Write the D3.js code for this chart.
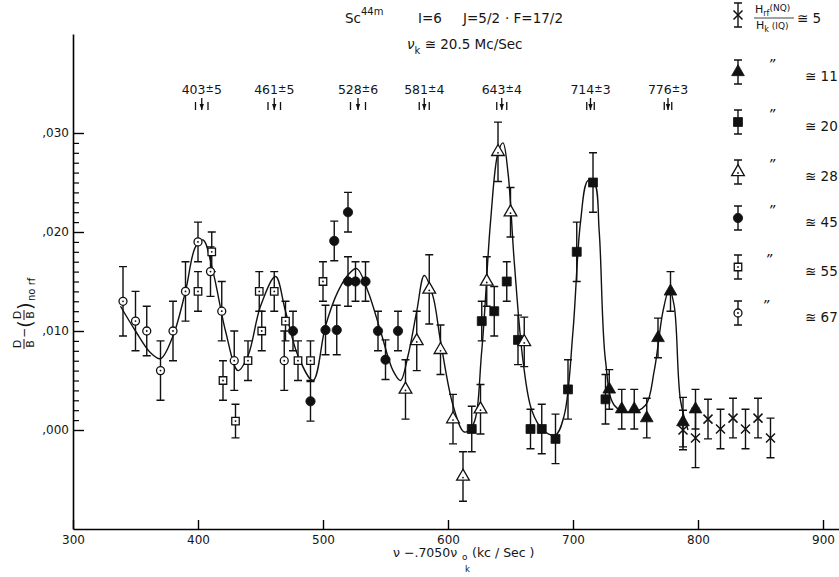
<!DOCTYPE html>
<html lang="en">
<head>
    <meta charset="UTF-8">
    <title>Sc44m</title>
    <style>
        body {margin:0; background:#fff;}
        text {font-family:"DejaVu Sans", sans-serif; fill:#151515;}
    </style>
</head>
<body>
<script src="https://cdn.jsdelivr.net/npm/d3@7"></script>
<script>
    // points: [nu - .7050 nu_ok (kc/sec), D/B - (D/B)no rf, error]
    let ratio5 = [[788,0.0000,0.002],[798,-0.0008,0.003],[808,0.0011,0.002],[818,0.0001,0.002],
        [828,0.0012,0.002],[838,0.0001,0.002],[848,0.0012,0.002],[858,-0.0008,0.002]];
    let ratio11 = [[729,0.0041,0.002],[739,0.0021,0.002],[749,0.0021,0.002],[759,0.0012,0.002],
        [768,0.0093,0.002],[778,0.0140,0.002],[788,0.0008,0.0025],[798,0.0021,0.002]];
    let ratio20 = [[619,0.0001,0.0023],[627,0.0110,0.002],[637,0.0120,0.0025],[647,0.0150,0.002],
        [656,0.0091,0.0025],[666,0.0001,0.002],[675,0.0001,0.0025],[686,-0.0009,0.0025],
        [696,0.0041,0.003],[703,0.0180,0.003],[716,0.0250,0.003],[726,0.0031,0.0025]];
    let ratio28 = [[566,0.0041,0.003],[575,0.0090,0.003],[585,0.0142,0.0035],[594,0.0081,0.0025],
        [604,0.0011,0.0025],[612,-0.0047,0.0025],[626,0.0021,0.0025],[631,0.0150,0.0025],
        [640,0.0281,0.003],[650,0.0220,0.0025],[661,0.0089,0.0025]];
    let ratio45 = [[476,0.0100,0.002],[490,0.0029,0.002],[502,0.0101,0.0025],[509,0.0191,0.002],
        [511,0.0101,0.0025],[520,0.0220,0.002],[520,0.0150,0.0025],[526,0.0150,0.002],
        [534,0.0150,0.002],[544,0.0100,0.002],[550,0.0071,0.002],[560,0.0100,0.002]];
    let ratio55 = [[400,0.0140,0.002],[411,0.0180,0.002],[420,0.0050,0.002],[430,0.0009,0.0017],
        [440,0.0070,0.002],[449,0.0140,0.002],[451,0.0100,0.002],[461,0.0140,0.002],
        [470,0.0110,0.002],[480,0.0070,0.002],[490,0.0070,0.002],[500,0.0150,0.002]];
    let ratio67 = [[340,0.0130,0.0035],[350,0.0110,0.003],[359,0.0100,0.0025],[370,0.0060,0.003],
        [380,0.0100,0.003],[390,0.0140,0.003],[400,0.0190,0.002],[410,0.0160,0.0025],
        [419,0.0120,0.003],[429,0.0070,0.003],[469,0.0070,0.003]];

    // hand drawn guide curve, knots
    let fitCurve = [[338,0.0125],[350,0.0100],[362,0.0078],[370,0.0072],[380,0.0095],[390,0.0140],
        [398,0.0185],[404,0.0192],[412,0.0160],[422,0.0100],[432,0.0060],[440,0.0075],[450,0.0125],
        [462,0.0155],[470,0.0120],[480,0.0075],[492,0.0050],[502,0.0105],[512,0.0140],[521,0.0158],
        [527,0.0163],[536,0.0140],[546,0.0100],[556,0.0060],[562,0.0050],[568,0.0075],[575,0.0120],
        [581,0.0156],[588,0.0135],[594,0.0090],[604,0.0025],[613,-0.0002],[620,0.0005],[627,0.0080],
        [634,0.0210],[640,0.0280],[644,0.0290],[648,0.0260],[653,0.0170],[660,0.0070],[667,0.0020],
        [676,0.0000],[686,-0.0005],[693,0.0015],[700,0.0100],[706,0.0210],[712,0.0252],[717,0.0250],
        [721,0.0200],[726,0.0070],[733,0.0025],[745,0.0018],[758,0.0025],[765,0.0060],[772,0.0120],
        [777,0.0142],[781,0.0125],[786,0.0030],[792,0.0000]];

    let peaks = [403,461,528,581,643,714,776];
    let peakErr = [5,5,6,4,4,3,3];
    let xTicks = [300,400,500,600,700,800,900];
    let yTicks = [0,0.010,0.020,0.030];
    let yTickLabels = [",000",",010",",020",",030"];
    let ratioLabels = ["5","11","20","28","45","55","67"];
    let ratioSigns = ["≅","≅","≅","≊","≊","≊","≊"];

    let width = 839;
    let height = 577;
    let svg = d3.select("body").append("svg")
        .attr("width",width)
        .attr("height",height);

    let x = d3.scaleLinear().domain([300,912.8]).range([73,839]);
    let y = d3.scaleLinear().domain([-0.010,0.040]).range([529,34]);

    // axes
    let yMinor = d3.range(1,30).filter(d => d % 10 !== 0).map(d => d/1000);
    svg.append("g")
        .attr("transform","translate(73,0)")
        .call(d3.axisLeft(y).tickValues(yTicks).tickSize(-11).tickSizeOuter(0)
            .tickPadding(4).tickFormat((d,i) => yTickLabels[i]))
        .call(g => g.select(".domain").attr("stroke-width",1.6))
        .call(g => g.selectAll(".tick line").attr("stroke-width",1.4))
        .call(g => g.selectAll("text").attr("font-size",12).attr("fill","#151515")
            .attr("font-family","DejaVu Sans, sans-serif"));
    svg.append("g")
        .attr("transform","translate(73,0)")
        .call(d3.axisLeft(y).tickValues(yMinor).tickSize(-6).tickFormat(""))
        .call(g => g.select(".domain").remove())
        .call(g => g.selectAll(".tick line").attr("stroke-width",1.2));
    svg.append("g")
        .attr("transform","translate(0,529)")
        .call(d3.axisBottom(x).tickValues(xTicks).tickSize(-9).tickSizeOuter(0).tickPadding(6))
        .call(g => g.select(".domain").attr("stroke-width",1.6))
        .call(g => g.selectAll(".tick line").attr("stroke-width",1.4))
        .call(g => g.selectAll("text").attr("font-size",12).attr("fill","#151515")
            .attr("font-family","DejaVu Sans, sans-serif"));

    // guide curve
    svg.append("path")
        .datum(fitCurve)
        .attr("fill","none")
        .attr("stroke","#111")
        .attr("stroke-width",1.4)
        .attr("d",d3.line().x(d => x(d[0])).y(d => y(d[1])).curve(d3.curveCatmullRom.alpha(0.5)));

    function marker(g,type,cx,cy) {
        if (type === "x") {
            g.append("path")
                .attr("d",`M${cx-4.5},${cy-4.5}L${cx+4.5},${cy+4.5}M${cx-4.5},${cy+4.5}L${cx+4.5},${cy-4.5}`)
                .attr("stroke","#111").attr("stroke-width",1.5);
            return;
        }
        let sym = {tri:d3.symbolTriangle,otri:d3.symbolTriangle,sq:d3.symbolSquare,
            osq:d3.symbolSquare,dot:d3.symbolCircle,ocirc:d3.symbolCircle}[type];
        let size = {tri:70,otri:70,sq:80,osq:56,dot:68,ocirc:50}[type];
        let open = type[0] === "o";
        g.append("path")
            .attr("transform",`translate(${cx},${cy})`)
            .attr("d",d3.symbol().type(sym).size(size)())
            .attr("fill",open ? "#fff" : "#111")
            .attr("stroke","#111")
            .attr("stroke-width",open ? 1.3 : 0.8);
        if (open) {
            g.append("circle").attr("cx",cx).attr("cy",cy + (type === "otri" ? 1 : 0))
                .attr("r",0.9).attr("fill","#111");
        }
    }

    function errorBar(g,cx,y0,y1) {
        g.append("path")
            .attr("d",`M${cx},${y0}L${cx},${y1}M${cx-4},${y0}L${cx+4},${y0}M${cx-4},${y1}L${cx+4},${y1}`)
            .attr("fill","none").attr("stroke","#111").attr("stroke-width",1.4);
    }

    let series = [
        {data:ratio5, type:"x"},
        {data:ratio11, type:"tri"},
        {data:ratio20, type:"sq"},
        {data:ratio28, type:"otri"},
        {data:ratio45, type:"dot"},
        {data:ratio55, type:"osq"},
        {data:ratio67, type:"ocirc"}
    ];

    let bars = svg.append("g");
    let marks = svg.append("g");
    series.forEach(s => {
        s.data.forEach(d => {
            errorBar(bars,x(d[0]),y(d[1]+d[2]),y(d[1]-d[2]));
        });
    });
    series.forEach(s => {
        s.data.forEach(d => marker(marks,s.type,x(d[0]),y(d[1])));
    });

    // peak annotations
    let ann = svg.append("g");
    peaks.forEach((p,i) => {
        let t = ann.append("text")
            .attr("x",x(p))
            .attr("y",94)
            .attr("text-anchor","middle")
            .attr("font-size",12.5);
        t.append("tspan").text(p);
        t.append("tspan").attr("font-size",10).attr("dy",-2).text("±");
        t.append("tspan").attr("dy",2).text(peakErr[i]);
        let cx = x(p);
        let dx = x(p + peakErr[i]) - cx;
        ann.append("path")
            .attr("d",`M${cx},98L${cx},110M${cx-dx},102L${cx-dx},110M${cx+dx},102L${cx+dx},110`)
            .attr("stroke","#111").attr("stroke-width",1.3);
        ann.append("path")
            .attr("d",`M${cx-2.2},104L${cx+2.2},104L${cx},110Z`)
            .attr("fill","#111");
    });

    // title
    let title = svg.append("text").attr("x",345).attr("y",23).attr("font-size",13.5);
    title.append("tspan").text("Sc");
    title.append("tspan").attr("font-size",10).attr("dy",-8).text("44m");
    title.append("tspan").attr("dy",8).attr("x",418).text("I=6");
    title.append("tspan").attr("x",463).text("J=5/2");
    title.append("tspan").attr("x",505).text("· F=17/2");
    let sub = svg.append("text").attr("x",407).attr("y",49).attr("font-size",13.5);
    sub.append("tspan").attr("font-style","italic").text("ν");
    sub.append("tspan").attr("font-size",10).attr("dy",5).text("k");
    sub.append("tspan").attr("dy",-5).text(" ≅ 20.5 Mc/Sec");

    // x axis title, pieces placed one by one so the subscripts sit clear
    let xt = svg.append("g");
    xt.append("text").attr("x",393).attr("y",557).attr("font-size",12.5).text("ν −.7050ν");
    xt.append("text").attr("x",462).attr("y",560).attr("font-size",9).text("o");
    xt.append("text").attr("x",465).attr("y",572).attr("font-size",8.5).text("k");
    xt.append("text").attr("x",472).attr("y",557).attr("font-size",12.5).text("(kc / Sec )");

    // y axis title
    let yt = svg.append("g").attr("transform","translate(24,290) rotate(-90)");
    function frac(g,cx,fs) {
        g.append("text").attr("x",cx).attr("y",-3).attr("text-anchor","middle").attr("font-size",fs).text("D");
        g.append("text").attr("x",cx).attr("y",fs - 1).attr("text-anchor","middle").attr("font-size",fs).text("B");
        g.append("line").attr("x1",cx-5).attr("x2",cx+5).attr("y1",0).attr("y2",0)
            .attr("stroke","#111").attr("stroke-width",1);
    }
    frac(yt,-54,11);
    yt.append("text").attr("x",-43).attr("y",4).attr("text-anchor","middle").attr("font-size",12).text("−");
    yt.append("text").attr("x",-34).attr("y",8).attr("text-anchor","middle").attr("font-size",20).text("(");
    frac(yt,-25,11);
    yt.append("text").attr("x",-16).attr("y",8).attr("text-anchor","middle").attr("font-size",20).text(")");
    yt.append("text").attr("x",-11).attr("y",11).attr("font-size",10).text("no rf");

    // legend
    let legY = [15,72,122,172,218,267,313];
    let leg = svg.append("g");
    series.forEach((s,i) => {
        errorBar(leg,738,legY[i]-12,legY[i]+12);
    });
    series.forEach((s,i) => {
        marker(leg,s.type,738,legY[i]);
        if (i > 0) {
            leg.append("text").attr("x",768 - (i > 4 ? (i-4)*3 : 0)).attr("y",legY[i] - 3)
                .attr("font-size",14).attr("font-style","italic").text("\u201D");
        }
        leg.append("text").attr("x",i === 0 ? 797 : 805).attr("y",legY[i] + (i === 0 ? 8 : 9))
            .attr("font-size",13.5).text(ratioSigns[i] + " " + ratioLabels[i]);
    });
    let h1 = leg.append("text").attr("x",755).attr("y",13).attr("font-size",11);
    h1.append("tspan").text("H");
    h1.append("tspan").attr("font-size",8).attr("dy",3).text("rf");
    h1.append("tspan").attr("font-size",9).attr("dy",-5).text("(NQ)");
    leg.append("line").attr("x1",754).attr("x2",794).attr("y1",18).attr("y2",18)
        .attr("stroke","#111").attr("stroke-width",0.8);
    let h2 = leg.append("text").attr("x",756).attr("y",29).attr("font-size",11);
    h2.append("tspan").text("H");
    h2.append("tspan").attr("font-size",8).attr("dy",3).text("k");
    h2.append("tspan").attr("font-size",9).attr("dy",-3).text(" (IQ)");
</script>
</body>
</html>
